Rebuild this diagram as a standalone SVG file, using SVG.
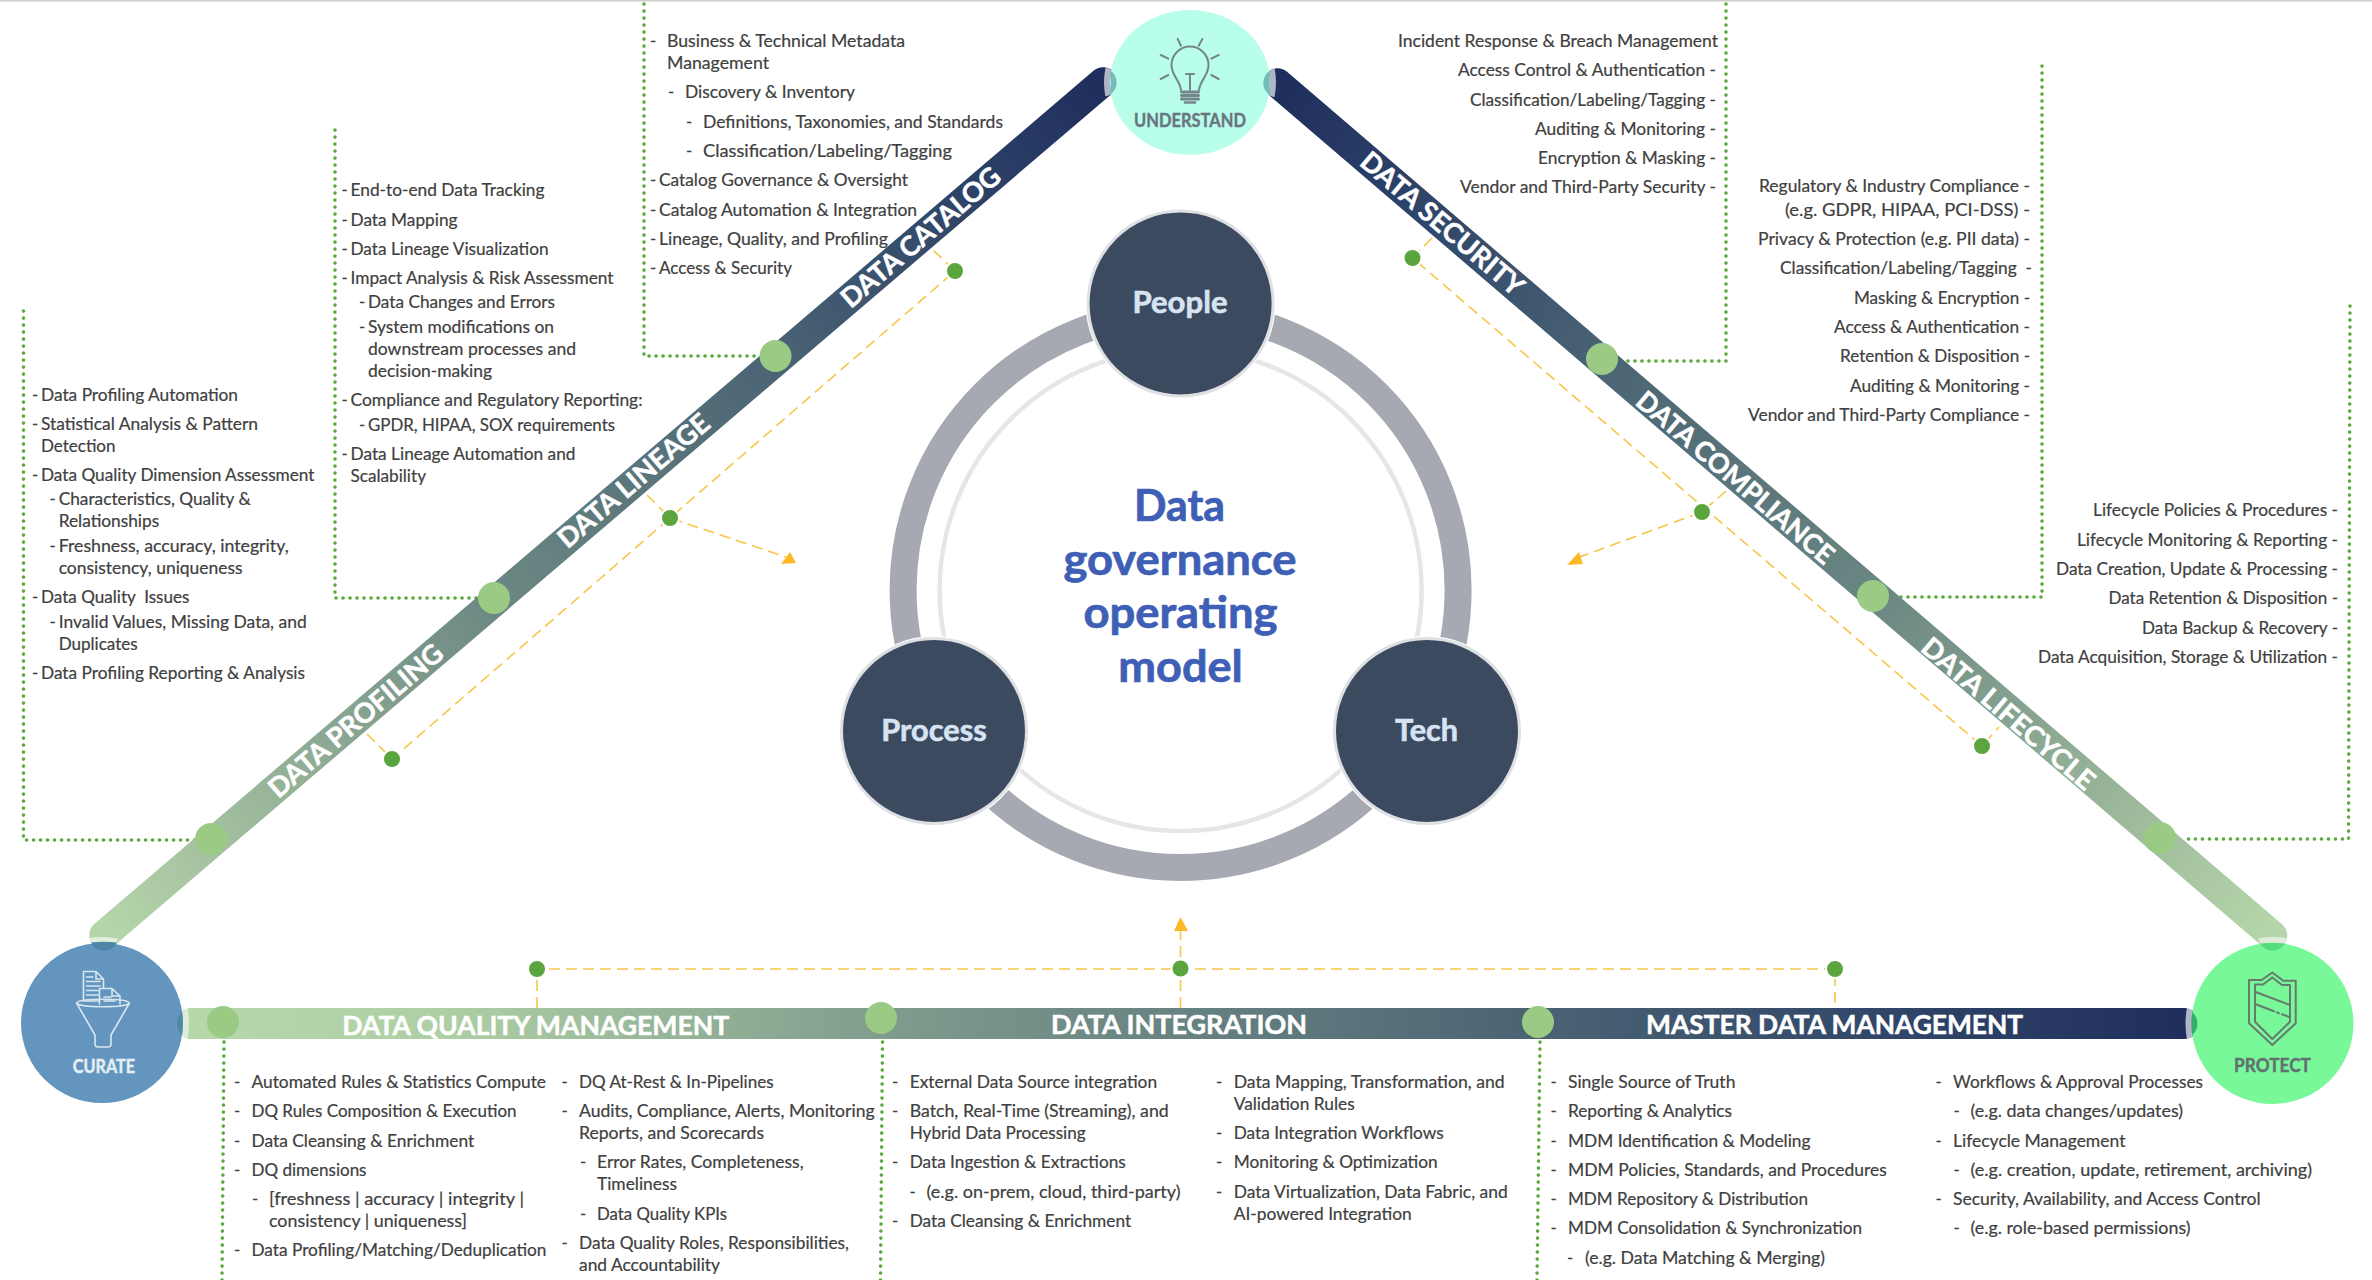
<svg xmlns="http://www.w3.org/2000/svg" width="2372" height="1280" viewBox="0 0 2372 1280">
<style>
.t{font-family:"Lato","Open Sans","Liberation Sans",sans-serif;font-size:16.8px;fill:#404040;stroke:#404040;stroke-width:.2}
.b{font-family:"Lato","Open Sans","Liberation Sans",sans-serif;font-weight:700;fill:#fff;stroke:#fff;stroke-width:.5;text-anchor:middle}
.hb{fill:#d6e4f2;stroke:#d6e4f2;stroke-width:.6}
.tt{fill:#3e5fb5;stroke:#3e5fb5;stroke-width:.7}
.dot{fill:none;stroke:#5aaa3c;stroke-width:3.6;stroke-linecap:round;stroke-dasharray:.1 6.9}
.dash{fill:none;stroke:#f7c649;stroke-width:1.6;stroke-dasharray:11 6}
.arr{fill:#fdb827}
.gd{fill:#5aa53d;stroke:#fff;stroke-width:2}
.lg{fill:#9bca84}
.hub{fill:#3c4a60;stroke:#dfe0e3;stroke-width:3}
.halo{fill:#fff}
.ic{fill:none;stroke-linecap:round;stroke-linejoin:round}
</style>
<defs>
<linearGradient id="gh" gradientUnits="userSpaceOnUse" x1="183" y1="0" x2="2190" y2="0">
<stop offset="0" stop-color="#b7d8ab"/><stop offset=".13" stop-color="#aecfa4"/><stop offset=".35" stop-color="#7f9c8d"/><stop offset=".67" stop-color="#4b6474"/><stop offset=".86" stop-color="#2f4468"/><stop offset="1" stop-color="#1f2e5c"/>
</linearGradient>
<linearGradient id="gl" gradientUnits="userSpaceOnUse" x1="104" y1="935" x2="1103" y2="82">
<stop offset="0" stop-color="#b5d6aa"/><stop offset=".11" stop-color="#a3c09f"/><stop offset=".39" stop-color="#6c8883"/><stop offset=".67" stop-color="#4a6474"/><stop offset=".88" stop-color="#2b4067"/><stop offset="1" stop-color="#1f2e5c"/>
</linearGradient>
<linearGradient id="gr" gradientUnits="userSpaceOnUse" x1="2272.5" y1="935.5" x2="1277.5" y2="83">
<stop offset="0" stop-color="#b5d6aa"/><stop offset=".11" stop-color="#a3c09f"/><stop offset=".39" stop-color="#6c8883"/><stop offset=".67" stop-color="#4a6474"/><stop offset=".88" stop-color="#2b4067"/><stop offset="1" stop-color="#1f2e5c"/>
</linearGradient>
<clipPath id="cUL"><circle cx="1103" cy="82" r="14.5"/></clipPath>
<clipPath id="cUR"><circle cx="1277.5" cy="83" r="14.5"/></clipPath>
<clipPath id="cCT"><circle cx="104" cy="935" r="14.5"/></clipPath>
<clipPath id="cCR"><rect x="175" y="1008" width="16" height="31"/></clipPath>
<clipPath id="cPT"><circle cx="2272.5" cy="935.5" r="14.5"/></clipPath>
<clipPath id="cPL"><rect x="2184" y="1008" width="16" height="31"/></clipPath>
</defs>
<rect width="2372" height="1280" fill="#fff"/>
<rect width="2372" height="1.5" fill="#cfcfc8"/>

<g id="connectors">
<path class="dot" d="M644 4V356H760"/>
<path class="dot" d="M335 130V598H480"/>
<path class="dot" d="M23.500 311V840H195"/>
<path class="dot" d="M1726 4V361H1623"/>
<path class="dot" d="M2042 66V597H1894"/>
<path class="dot" d="M2350 306L2348.500 839H2184"/>
<path class="dot" d="M224 1042L222 1280"/>
<path class="dot" d="M882.500 1042L880.500 1280"/>
<path class="dot" d="M1540 1042L1537 1280"/>
<path class="dash" d="M367 734L392 759L955 271L932 249"/>
<path class="dash" d="M647 495L670 518L786 557"/>
<path class="dash" d="M1432 238L1412.500 258L1982 746L1999 727"/>
<path class="dash" d="M1726 491L1702 512L1577 558"/>
<path class="dash" d="M537 1008V969H1835V1008"/>
<path class="dash" d="M1180.500 1008V930"/>
<polygon class="arr" points="790,552 781,564 796,563"/>
<polygon class="arr" points="1579,552 1567,565 1583,564"/>
<polygon class="arr" points="1180.500,917 1174,931 1188,931"/>
</g>

<g id="bars">
<path d="M104 935L1103 82" fill="none" stroke="url(#gl)" stroke-width="29.400" stroke-linecap="round"/>
<path d="M2272.500 935.500L1277.500 83" fill="none" stroke="url(#gr)" stroke-width="29.400" stroke-linecap="round"/>
<rect x="175" y="1008" width="2025" height="31" rx="15.500" fill="url(#gh)"/>
</g>

<g id="ring">
<circle cx="1180.600" cy="590" r="277.500" fill="none" stroke="#a6a9b1" stroke-width="27"/>
<circle cx="1180.600" cy="590" r="241" fill="none" stroke="#e6e6e6" stroke-width="4.500"/>
</g>

<g id="node-understand">
<ellipse cx="1190" cy="82.500" rx="80" ry="72.500" fill="#b9fdeb"/>
<g class="ic" stroke="#74868b" stroke-width="2">
<path d="M1181 90C1180 80 1171.500 76 1171.500 65a18.500 18.500 0 1 1 37 0C1208.500 76 1200 80 1199 90"/>
<path d="M1186 74H1194M1190 74V90"/>
<path d="M1177.700 39L1181 45.700M1202.300 39L1198.700 45.700M1218.700 55L1211.300 58.700M1160.700 55L1168.300 58.700M1160.700 79L1168.300 75M1218.700 79L1211.300 75"/>
<path d="M1181.500 92H1198.500M1181.500 95.500H1198.500M1181.500 99H1198.500" stroke-width="3"/>
<path d="M1185 102.500H1195" stroke-width="2.500"/>
</g>
<text x="1134" y="126.500" font-family="Lato,'Open Sans',sans-serif" font-weight="700" font-size="19" fill="#687680" stroke="#687680" stroke-width=".4" textLength="112" lengthAdjust="spacingAndGlyphs">UNDERSTAND</text>
</g>

<g id="node-curate">
<ellipse cx="102" cy="1023" rx="81" ry="80" fill="#6495bf"/>
<g class="ic" stroke="#d8e8f0" stroke-width="1.600">
<path d="M76.500 1003C80 998 126 998 129.500 1003C126 1008 80 1008 76.500 1003M76.500 1003L95 1035V1044Q95 1047 98 1047H108Q111 1047 111 1044V1035L129.500 1003"/>
<path d="M99 1001H83.500V971.500H96L103.500 979V988M96 971.500V979H103.500"/>
<path d="M86.500 977H93M86.500 981.500H100M86.500 986H100M86.500 990.500H98M86.500 995H98"/>
<path d="M99.500 1004V988.500H112L120 996V1004M112 988.500V996H120M104 997H111M104 1001H115"/>
</g>
<text x="72.700" y="1072.500" font-family="Lato,'Open Sans',sans-serif" font-weight="700" font-size="18" fill="#e4f0f5" stroke="#e4f0f5" stroke-width=".4" textLength="62.500" lengthAdjust="spacingAndGlyphs">CURATE</text>
</g>

<g id="node-protect">
<ellipse cx="2272.500" cy="1023.500" rx="81" ry="80.500" fill="#78f898"/>
<g class="ic" stroke="#667a70" stroke-width="2">
<path d="M2272.300 972.500L2261.700 980H2249V1023.300L2272.300 1045L2295.700 1023.300V980.700H2283.300Z"/>
<path d="M2272.300 977.500L2263 984.500H2255V1021.700L2272.300 1039L2290 1021.700V985H2282Z"/>
<path d="M2255 991.700L2290 1005"/>
<path d="M2255 1004L2274 1011.300M2277 1012.400L2279 1013.200M2282 1014.300L2290 1017.300"/>
</g>
<text x="2234" y="1071.500" font-family="Lato,'Open Sans',sans-serif" font-weight="700" font-size="19" fill="#637072" stroke="#637072" stroke-width=".4" textLength="77" lengthAdjust="spacingAndGlyphs">PROTECT</text>
</g>

<g id="joints">
<ellipse cx="1190" cy="82.500" rx="83" ry="75.500" fill="none" stroke="#fff" stroke-opacity=".65" stroke-width="6" clip-path="url(#cUL)"/>
<path d="M1110 70.200A14.500 14.500 0 0 1 1110.200 94.500Q1112 82 1110 70.200Z" fill="#74bcb9"/>
<ellipse cx="1190" cy="82.500" rx="83" ry="75.500" fill="none" stroke="#fff" stroke-opacity=".65" stroke-width="6" clip-path="url(#cUR)"/>
<path d="M1270.400 70.500A14.500 14.500 0 0 0 1270.400 95.500Q1268.500 83 1270.400 70.500Z" fill="#74bcb9"/>
<ellipse cx="102" cy="1023" rx="84" ry="83" fill="none" stroke="#fff" stroke-opacity=".6" stroke-width="6" clip-path="url(#cCT)"/>
<path d="M91 942.500Q104 941 117 942.500A14.500 14.500 0 0 1 91 942.500Z" fill="#4f86a5"/>
<ellipse cx="102" cy="1023" rx="84" ry="83" fill="none" stroke="#fff" stroke-opacity=".55" stroke-width="6" clip-path="url(#cCR)"/>
<path d="M182 1012A15.500 15.500 0 0 0 182 1035Q183.500 1023.500 182 1012Z" fill="#5087a6"/>
<ellipse cx="2272.500" cy="1023.500" rx="84" ry="83.500" fill="none" stroke="#fff" stroke-opacity=".55" stroke-width="6" clip-path="url(#cPT)"/>
<path d="M2260 943.500Q2272.500 942 2285 943.500A14.500 14.500 0 0 1 2260 943.500Z" fill="#56dc80"/>
<ellipse cx="2272.500" cy="1023.500" rx="84" ry="83.500" fill="none" stroke="#fff" stroke-opacity=".65" stroke-width="6" clip-path="url(#cPL)"/>
<path d="M2192.300 1012A15.500 15.500 0 0 1 2192.300 1035Q2190.800 1023.500 2192.300 1012Z" fill="#2fb069"/>
</g>

<g id="markers">
<circle class="lg" cx="211" cy="839" r="16"/><circle class="lg" cx="494" cy="598" r="16"/><circle class="lg" cx="775.500" cy="356" r="16"/>
<circle class="lg" cx="1602" cy="359" r="16"/><circle class="lg" cx="1873" cy="596" r="16"/><circle class="lg" cx="2160" cy="838" r="16"/>
<circle class="lg" cx="223" cy="1022" r="16"/><circle class="lg" cx="881" cy="1018" r="16"/><circle class="lg" cx="1538" cy="1022" r="16"/>
<circle class="gd" cx="392" cy="759" r="9"/><circle class="gd" cx="670" cy="518" r="9"/><circle class="gd" cx="955" cy="271" r="9"/>
<circle class="gd" cx="1412.500" cy="258" r="9"/><circle class="gd" cx="1702" cy="512" r="9"/><circle class="gd" cx="1982" cy="746" r="9"/>
<circle class="gd" cx="537" cy="969" r="9"/><circle class="gd" cx="1180.500" cy="968.500" r="9"/><circle class="gd" cx="1835" cy="969" r="9"/>
</g>

<g id="bar-labels">
<text class="b" font-size="27" transform="translate(356 721) rotate(-40.500)" y="9" textLength="220" lengthAdjust="spacingAndGlyphs">DATA PROFILING</text>
<text class="b" font-size="27" transform="translate(634 481) rotate(-40.500)" y="9" textLength="190" lengthAdjust="spacingAndGlyphs">DATA LINEAGE</text>
<text class="b" font-size="27" transform="translate(921 237.500) rotate(-40.500)" y="9" textLength="200" lengthAdjust="spacingAndGlyphs">DATA CATALOG</text>
<text class="b" font-size="27" transform="translate(1442 224) rotate(40.500)" y="9" textLength="205" lengthAdjust="spacingAndGlyphs">DATA SECURITY</text>
<text class="b" font-size="27" transform="translate(1735 478) rotate(40.500)" y="9" textLength="250" lengthAdjust="spacingAndGlyphs">DATA COMPLIANCE</text>
<text class="b" font-size="27" transform="translate(2008 714) rotate(40.500)" y="9" textLength="218" lengthAdjust="spacingAndGlyphs">DATA LIFECYCLE</text>
<text class="b" font-size="27" x="535.700" y="1034.500" textLength="387" lengthAdjust="spacingAndGlyphs">DATA QUALITY MANAGEMENT</text>
<text class="b" font-size="27" x="1179" y="1033.500" textLength="256" lengthAdjust="spacingAndGlyphs">DATA INTEGRATION</text>
<text class="b" font-size="27" x="1834.600" y="1033.500" textLength="377" lengthAdjust="spacingAndGlyphs">MASTER DATA MANAGEMENT</text>
</g>

<g id="node-people"><circle class="halo" cx="1180.600" cy="303.500" r="95"/><circle class="hub" cx="1180.600" cy="303.500" r="92.500"/>
<text class="b hb" font-size="31" x="1180" y="313" textLength="95" lengthAdjust="spacingAndGlyphs">People</text></g>
<g id="node-process"><circle class="halo" cx="934" cy="731" r="95"/><circle class="hub" cx="934" cy="731" r="92.500"/>
<text class="b hb" font-size="31" x="934" y="741" textLength="105.500" lengthAdjust="spacingAndGlyphs">Process</text></g>
<g id="node-tech"><circle class="halo" cx="1427" cy="731" r="95"/><circle class="hub" cx="1427" cy="731" r="92.500"/>
<text class="b hb" font-size="31" x="1426.500" y="741" textLength="63" lengthAdjust="spacingAndGlyphs">Tech</text></g>

<g id="title">
<text class="b tt" font-size="43" x="1179.500" y="521" textLength="91" lengthAdjust="spacingAndGlyphs">Data</text>
<text class="b tt" font-size="43" x="1180" y="574.500" textLength="233" lengthAdjust="spacingAndGlyphs">governance</text>
<text class="b tt" font-size="43" x="1180.500" y="628" textLength="194" lengthAdjust="spacingAndGlyphs">operating</text>
<text class="b tt" font-size="43" x="1180.500" y="682" textLength="124.500" lengthAdjust="spacingAndGlyphs">model</text>
</g>

<g id="list-catalog">
<text class="t" y="47"><tspan x="650">-</tspan><tspan x="667" textLength="238" lengthAdjust="spacingAndGlyphs">Business &amp; Technical Metadata</tspan></text>
<text class="t" x="667" y="69" textLength="102" lengthAdjust="spacingAndGlyphs">Management</text>
<text class="t" y="98"><tspan x="668">-</tspan><tspan x="685" textLength="170" lengthAdjust="spacingAndGlyphs">Discovery &amp; Inventory</tspan></text>
<text class="t" y="128"><tspan x="686">-</tspan><tspan x="703" textLength="300" lengthAdjust="spacingAndGlyphs">Definitions, Taxonomies, and Standards</tspan></text>
<text class="t" y="157"><tspan x="686">-</tspan><tspan x="703" textLength="249" lengthAdjust="spacingAndGlyphs">Classification/Labeling/Tagging</tspan></text>
<text class="t" y="186"><tspan x="650">-</tspan><tspan x="659" textLength="249" lengthAdjust="spacingAndGlyphs">Catalog Governance &amp; Oversight</tspan></text>
<text class="t" y="216"><tspan x="650">-</tspan><tspan x="659" textLength="258" lengthAdjust="spacingAndGlyphs">Catalog Automation &amp; Integration</tspan></text>
<text class="t" y="245"><tspan x="650">-</tspan><tspan x="659" textLength="229" lengthAdjust="spacingAndGlyphs">Lineage, Quality, and Profiling</tspan></text>
<text class="t" y="274"><tspan x="650">-</tspan><tspan x="659" textLength="133" lengthAdjust="spacingAndGlyphs">Access &amp; Security</tspan></text>
</g>

<g id="list-lineage">
<text class="t" y="196"><tspan x="341.500">-</tspan><tspan x="350.500" textLength="194" lengthAdjust="spacingAndGlyphs">End-to-end Data Tracking</tspan></text>
<text class="t" y="226"><tspan x="341.500">-</tspan><tspan x="350.500" textLength="107" lengthAdjust="spacingAndGlyphs">Data Mapping</tspan></text>
<text class="t" y="255"><tspan x="341.500">-</tspan><tspan x="350.500" textLength="198" lengthAdjust="spacingAndGlyphs">Data Lineage Visualization</tspan></text>
<text class="t" y="284"><tspan x="341.500">-</tspan><tspan x="350.500" textLength="263" lengthAdjust="spacingAndGlyphs">Impact Analysis &amp; Risk Assessment</tspan></text>
<text class="t" y="308"><tspan x="359">-</tspan><tspan x="368" textLength="187" lengthAdjust="spacingAndGlyphs">Data Changes and Errors</tspan></text>
<text class="t" y="333"><tspan x="359">-</tspan><tspan x="368" textLength="186" lengthAdjust="spacingAndGlyphs">System modifications on</tspan></text>
<text class="t" x="368" y="355" textLength="208" lengthAdjust="spacingAndGlyphs">downstream processes and</text>
<text class="t" x="368" y="377" textLength="124" lengthAdjust="spacingAndGlyphs">decision-making</text>
<text class="t" y="406"><tspan x="341.500">-</tspan><tspan x="350.500" textLength="292" lengthAdjust="spacingAndGlyphs">Compliance and Regulatory Reporting:</tspan></text>
<text class="t" y="431"><tspan x="359">-</tspan><tspan x="368" textLength="247" lengthAdjust="spacingAndGlyphs">GPDR, HIPAA, SOX requirements</tspan></text>
<text class="t" y="460"><tspan x="341.500">-</tspan><tspan x="350.500" textLength="225" lengthAdjust="spacingAndGlyphs">Data Lineage Automation and</tspan></text>
<text class="t" x="350.500" y="482" textLength="75.500" lengthAdjust="spacingAndGlyphs">Scalability</text>
</g>

<g id="list-profiling">
<text class="t" y="401"><tspan x="32">-</tspan><tspan x="41" textLength="197" lengthAdjust="spacingAndGlyphs">Data Profiling Automation</tspan></text>
<text class="t" y="430"><tspan x="32">-</tspan><tspan x="41" textLength="217" lengthAdjust="spacingAndGlyphs">Statistical Analysis &amp; Pattern</tspan></text>
<text class="t" x="41" y="452" textLength="74.500" lengthAdjust="spacingAndGlyphs">Detection</text>
<text class="t" y="481"><tspan x="32">-</tspan><tspan x="41" textLength="273.500" lengthAdjust="spacingAndGlyphs">Data Quality Dimension Assessment</tspan></text>
<text class="t" y="505"><tspan x="49.500">-</tspan><tspan x="58.700" textLength="192" lengthAdjust="spacingAndGlyphs">Characteristics, Quality &amp;</tspan></text>
<text class="t" x="58.700" y="527" textLength="100.500" lengthAdjust="spacingAndGlyphs">Relationships</text>
<text class="t" y="552"><tspan x="49.500">-</tspan><tspan x="58.700" textLength="230" lengthAdjust="spacingAndGlyphs">Freshness, accuracy, integrity,</tspan></text>
<text class="t" x="58.700" y="574" textLength="184" lengthAdjust="spacingAndGlyphs">consistency, uniqueness</text>
<text class="t" y="603"><tspan x="32">-</tspan><tspan x="41" textLength="148.500" lengthAdjust="spacingAndGlyphs" xml:space="preserve">Data Quality  Issues</tspan></text>
<text class="t" y="628"><tspan x="49.500">-</tspan><tspan x="58.700" textLength="248" lengthAdjust="spacingAndGlyphs">Invalid Values, Missing Data, and</tspan></text>
<text class="t" x="58.700" y="650" textLength="79" lengthAdjust="spacingAndGlyphs">Duplicates</text>
<text class="t" y="679"><tspan x="32">-</tspan><tspan x="41" textLength="264" lengthAdjust="spacingAndGlyphs">Data Profiling Reporting &amp; Analysis</tspan></text>
</g>

<g id="list-security">
<text class="t" x="1398" y="47" textLength="320" lengthAdjust="spacingAndGlyphs">Incident Response &amp; Breach Management</text>
<text class="t" x="1458" y="76" textLength="258" lengthAdjust="spacingAndGlyphs">Access Control &amp; Authentication -</text>
<text class="t" x="1470" y="105.500" textLength="246" lengthAdjust="spacingAndGlyphs">Classification/Labeling/Tagging -</text>
<text class="t" x="1535" y="135" textLength="181" lengthAdjust="spacingAndGlyphs">Auditing &amp; Monitoring -</text>
<text class="t" x="1538" y="164" textLength="178" lengthAdjust="spacingAndGlyphs">Encryption &amp; Masking -</text>
<text class="t" x="1460" y="193" textLength="256" lengthAdjust="spacingAndGlyphs">Vendor and Third-Party Security -</text>
</g>

<g id="list-compliance">
<text class="t" x="1759" y="192" textLength="271" lengthAdjust="spacingAndGlyphs">Regulatory &amp; Industry Compliance -</text>
<text class="t" x="1785" y="215.500" textLength="245" lengthAdjust="spacingAndGlyphs">(e.g. GDPR, HIPAA, PCI-DSS) -</text>
<text class="t" x="1758" y="245" textLength="272" lengthAdjust="spacingAndGlyphs">Privacy &amp; Protection (e.g. PII data) -</text>
<text class="t" x="1780" y="274" textLength="252" lengthAdjust="spacingAndGlyphs" xml:space="preserve">Classification/Labeling/Tagging  -</text>
<text class="t" x="1854" y="303.500" textLength="176" lengthAdjust="spacingAndGlyphs">Masking &amp; Encryption -</text>
<text class="t" x="1834" y="333" textLength="196" lengthAdjust="spacingAndGlyphs">Access &amp; Authentication -</text>
<text class="t" x="1840" y="362" textLength="190" lengthAdjust="spacingAndGlyphs">Retention &amp; Disposition -</text>
<text class="t" x="1850" y="392" textLength="180" lengthAdjust="spacingAndGlyphs">Auditing &amp; Monitoring -</text>
<text class="t" x="1748" y="421" textLength="282" lengthAdjust="spacingAndGlyphs">Vendor and Third-Party Compliance -</text>
</g>

<g id="list-lifecycle">
<text class="t" x="2093" y="516" textLength="245" lengthAdjust="spacingAndGlyphs">Lifecycle Policies &amp; Procedures -</text>
<text class="t" x="2077" y="546" textLength="261" lengthAdjust="spacingAndGlyphs">Lifecycle Monitoring &amp; Reporting -</text>
<text class="t" x="2056" y="575" textLength="282" lengthAdjust="spacingAndGlyphs">Data Creation, Update &amp; Processing -</text>
<text class="t" x="2108.500" y="604" textLength="229.500" lengthAdjust="spacingAndGlyphs">Data Retention &amp; Disposition -</text>
<text class="t" x="2142" y="634" textLength="196" lengthAdjust="spacingAndGlyphs">Data Backup &amp; Recovery -</text>
<text class="t" x="2038" y="663" textLength="300" lengthAdjust="spacingAndGlyphs">Data Acquisition, Storage &amp; Utilization -</text>
</g>

<g id="list-dq">
<text class="t" y="1088"><tspan x="234">-</tspan><tspan x="251.500" textLength="294.500" lengthAdjust="spacingAndGlyphs">Automated Rules &amp; Statistics Compute</tspan></text>
<text class="t" y="1117"><tspan x="234">-</tspan><tspan x="251.500" textLength="265" lengthAdjust="spacingAndGlyphs">DQ Rules Composition &amp; Execution</tspan></text>
<text class="t" y="1146.500"><tspan x="234">-</tspan><tspan x="251.500" textLength="222.700" lengthAdjust="spacingAndGlyphs">Data Cleansing &amp; Enrichment</tspan></text>
<text class="t" y="1176"><tspan x="234">-</tspan><tspan x="251.500" textLength="115" lengthAdjust="spacingAndGlyphs">DQ dimensions</tspan></text>
<text class="t" y="1205"><tspan x="252">-</tspan><tspan x="269" textLength="255" lengthAdjust="spacingAndGlyphs">[freshness | accuracy | integrity |</tspan></text>
<text class="t" x="269" y="1227" textLength="198" lengthAdjust="spacingAndGlyphs">consistency | uniqueness]</text>
<text class="t" y="1256"><tspan x="234">-</tspan><tspan x="251.500" textLength="295" lengthAdjust="spacingAndGlyphs">Data Profiling/Matching/Deduplication</tspan></text>
<text class="t" y="1088"><tspan x="561.500">-</tspan><tspan x="579" textLength="194.600" lengthAdjust="spacingAndGlyphs">DQ At-Rest &amp; In-Pipelines</tspan></text>
<text class="t" y="1117"><tspan x="561.500">-</tspan><tspan x="579" textLength="295.600" lengthAdjust="spacingAndGlyphs">Audits, Compliance, Alerts, Monitoring</tspan></text>
<text class="t" x="579" y="1139" textLength="185" lengthAdjust="spacingAndGlyphs">Reports, and Scorecards</text>
<text class="t" y="1168"><tspan x="580">-</tspan><tspan x="597" textLength="206.700" lengthAdjust="spacingAndGlyphs">Error Rates, Completeness,</tspan></text>
<text class="t" x="597" y="1190" textLength="80" lengthAdjust="spacingAndGlyphs">Timeliness</text>
<text class="t" y="1220"><tspan x="580">-</tspan><tspan x="597" textLength="130" lengthAdjust="spacingAndGlyphs">Data Quality KPIs</tspan></text>
<text class="t" y="1249"><tspan x="561.500">-</tspan><tspan x="579" textLength="270" lengthAdjust="spacingAndGlyphs">Data Quality Roles, Responsibilities,</tspan></text>
<text class="t" x="579" y="1271" textLength="141" lengthAdjust="spacingAndGlyphs">and Accountability</text>
</g>

<g id="list-integration">
<text class="t" y="1088"><tspan x="892">-</tspan><tspan x="909.700" textLength="247.400" lengthAdjust="spacingAndGlyphs">External Data Source integration</tspan></text>
<text class="t" y="1117"><tspan x="892">-</tspan><tspan x="909.700" textLength="259" lengthAdjust="spacingAndGlyphs">Batch, Real-Time (Streaming), and</tspan></text>
<text class="t" x="909.700" y="1139" textLength="176" lengthAdjust="spacingAndGlyphs">Hybrid Data Processing</text>
<text class="t" y="1168"><tspan x="892">-</tspan><tspan x="909.700" textLength="216" lengthAdjust="spacingAndGlyphs">Data Ingestion &amp; Extractions</tspan></text>
<text class="t" y="1198"><tspan x="909.500">-</tspan><tspan x="926.500" textLength="254" lengthAdjust="spacingAndGlyphs">(e.g. on-prem, cloud, third-party)</tspan></text>
<text class="t" y="1227"><tspan x="892">-</tspan><tspan x="909.700" textLength="221.400" lengthAdjust="spacingAndGlyphs">Data Cleansing &amp; Enrichment</tspan></text>
<text class="t" y="1088"><tspan x="1216">-</tspan><tspan x="1233.700" textLength="271" lengthAdjust="spacingAndGlyphs">Data Mapping, Transformation, and</tspan></text>
<text class="t" x="1233.700" y="1110" textLength="121" lengthAdjust="spacingAndGlyphs">Validation Rules</text>
<text class="t" y="1139"><tspan x="1216">-</tspan><tspan x="1233.700" textLength="210" lengthAdjust="spacingAndGlyphs">Data Integration Workflows</tspan></text>
<text class="t" y="1168"><tspan x="1216">-</tspan><tspan x="1233.700" textLength="204" lengthAdjust="spacingAndGlyphs">Monitoring &amp; Optimization</tspan></text>
<text class="t" y="1198"><tspan x="1216">-</tspan><tspan x="1233.700" textLength="274" lengthAdjust="spacingAndGlyphs">Data Virtualization, Data Fabric, and</tspan></text>
<text class="t" x="1233.700" y="1220" textLength="178" lengthAdjust="spacingAndGlyphs">AI-powered Integration</text>
</g>

<g id="list-mdm">
<text class="t" y="1088"><tspan x="1550.500">-</tspan><tspan x="1568" textLength="167.400" lengthAdjust="spacingAndGlyphs">Single Source of Truth</tspan></text>
<text class="t" y="1117"><tspan x="1550.500">-</tspan><tspan x="1568" textLength="164" lengthAdjust="spacingAndGlyphs">Reporting &amp; Analytics</tspan></text>
<text class="t" y="1146.500"><tspan x="1550.500">-</tspan><tspan x="1568" textLength="242.500" lengthAdjust="spacingAndGlyphs">MDM Identification &amp; Modeling</tspan></text>
<text class="t" y="1176"><tspan x="1550.500">-</tspan><tspan x="1568" textLength="318.700" lengthAdjust="spacingAndGlyphs">MDM Policies, Standards, and Procedures</tspan></text>
<text class="t" y="1205"><tspan x="1550.500">-</tspan><tspan x="1568" textLength="240" lengthAdjust="spacingAndGlyphs">MDM Repository &amp; Distribution</tspan></text>
<text class="t" y="1234"><tspan x="1550.500">-</tspan><tspan x="1568" textLength="294" lengthAdjust="spacingAndGlyphs">MDM Consolidation &amp; Synchronization</tspan></text>
<text class="t" y="1264"><tspan x="1567">-</tspan><tspan x="1585" textLength="240" lengthAdjust="spacingAndGlyphs">(e.g. Data Matching &amp; Merging)</tspan></text>
<text class="t" y="1088"><tspan x="1935.500">-</tspan><tspan x="1953" textLength="250" lengthAdjust="spacingAndGlyphs">Workflows &amp; Approval Processes</tspan></text>
<text class="t" y="1117"><tspan x="1953.500">-</tspan><tspan x="1970.500" textLength="212.500" lengthAdjust="spacingAndGlyphs">(e.g. data changes/updates)</tspan></text>
<text class="t" y="1146.500"><tspan x="1935.500">-</tspan><tspan x="1953" textLength="172.400" lengthAdjust="spacingAndGlyphs">Lifecycle Management</tspan></text>
<text class="t" y="1176"><tspan x="1953.500">-</tspan><tspan x="1970.500" textLength="341.500" lengthAdjust="spacingAndGlyphs">(e.g. creation, update, retirement, archiving)</tspan></text>
<text class="t" y="1205"><tspan x="1935.500">-</tspan><tspan x="1953" textLength="307.600" lengthAdjust="spacingAndGlyphs">Security, Availability, and Access Control</tspan></text>
<text class="t" y="1234"><tspan x="1953.500">-</tspan><tspan x="1970.500" textLength="220" lengthAdjust="spacingAndGlyphs">(e.g. role-based permissions)</tspan></text>
</g>
</svg>
